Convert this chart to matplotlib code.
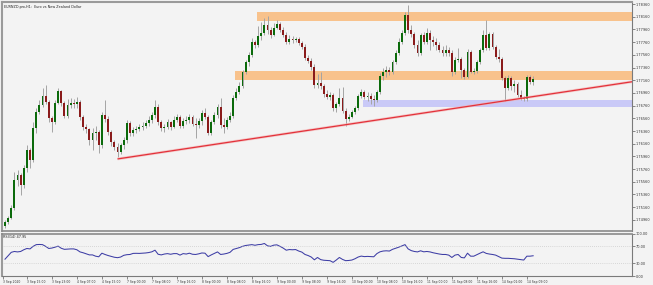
import matplotlib
matplotlib.use("Agg")
import matplotlib.pyplot as plt
from matplotlib.patches import Rectangle
import numpy as np

W, H = 653, 285
BG = "#f3f3f3"

# ---- EURNZD H1 bars ----
first_open = 1.7486
closes = [
    1.7493, 1.7499, 1.7515, 1.7559, 1.7567, 1.7551, 1.7578, 1.7606, 1.7590, 1.7641,
    1.7666, 1.7677, 1.7691, 1.7682, 1.7656, 1.7650, 1.7680, 1.7699, 1.7680, 1.7660,
    1.7677, 1.7680, 1.7679, 1.7682, 1.7658, 1.7642, 1.7639, 1.7622, 1.7633, 1.7634,
    1.7614, 1.7661, 1.7655, 1.7634, 1.7619, 1.7611, 1.7603, 1.7614, 1.7622, 1.7649,
    1.7633, 1.7638, 1.7639, 1.7642, 1.7644, 1.7649, 1.7653, 1.7661, 1.7674, 1.7650,
    1.7641, 1.7642, 1.7650, 1.7642, 1.7653, 1.7658, 1.7644, 1.7652, 1.7653, 1.7658,
    1.7647, 1.7645, 1.7652, 1.7664, 1.7658, 1.7633, 1.7650, 1.7661, 1.7674, 1.7645,
    1.7642, 1.7653, 1.7660, 1.7688, 1.7697, 1.7707, 1.7729, 1.7745, 1.7756, 1.7776,
    1.7771, 1.7786, 1.7790, 1.7803, 1.7795, 1.7787, 1.7798, 1.7805, 1.7795, 1.7787,
    1.7776, 1.7781, 1.7779, 1.7781, 1.7775, 1.7768, 1.7751, 1.7746, 1.7737, 1.7708,
    1.7712, 1.7707, 1.7694, 1.7690, 1.7693, 1.7672, 1.7679, 1.7688, 1.7667, 1.7655,
    1.7658, 1.7666, 1.7672, 1.7691, 1.7697, 1.7690, 1.7691, 1.7686, 1.7685, 1.7697,
    1.7723, 1.7729, 1.7732, 1.7729, 1.7745, 1.7759, 1.7776, 1.7790, 1.7819, 1.7795,
    1.7789, 1.7771, 1.7759, 1.7787, 1.7776, 1.7790, 1.7779, 1.7776, 1.7771, 1.7764,
    1.7759, 1.7764, 1.7759, 1.7729, 1.7748, 1.7749, 1.7732, 1.7721, 1.7760, 1.7729,
    1.7730, 1.7745, 1.7764, 1.7787, 1.7767, 1.7789, 1.7768, 1.7753, 1.7749, 1.7719,
    1.7704, 1.7719, 1.7707, 1.7710, 1.7693, 1.7688, 1.7686, 1.7721, 1.7713, 1.7718,
]
highs = [
    1.7496, 1.7502, 1.7519, 1.7571, 1.7575, 1.7570, 1.7582, 1.7614, 1.7609, 1.7650,
    1.7672, 1.7685, 1.7704, 1.7708, 1.7685, 1.7660, 1.7685, 1.7704, 1.7701, 1.7683,
    1.7686, 1.7688, 1.7686, 1.7690, 1.7685, 1.7661, 1.7647, 1.7641, 1.7641, 1.7644,
    1.7638, 1.7666, 1.7685, 1.7660, 1.7638, 1.7622, 1.7617, 1.7617, 1.7627, 1.7653,
    1.7652, 1.7642, 1.7644, 1.7647, 1.7650, 1.7653, 1.7660, 1.7666, 1.7685, 1.7679,
    1.7653, 1.7647, 1.7655, 1.7652, 1.7660, 1.7663, 1.7661, 1.7656, 1.7660, 1.7663,
    1.7661, 1.7656, 1.7656, 1.7669, 1.7672, 1.7661, 1.7653, 1.7666, 1.7679, 1.7688,
    1.7656, 1.7658, 1.7666, 1.7693, 1.7704, 1.7713, 1.7732, 1.7748, 1.7760, 1.7782,
    1.7779, 1.7801, 1.7808, 1.7814, 1.7817, 1.7800, 1.7806, 1.7811, 1.7808, 1.7800,
    1.7792, 1.7787, 1.7786, 1.7784, 1.7784, 1.7778, 1.7773, 1.7756, 1.7751, 1.7742,
    1.7726, 1.7729, 1.7710, 1.7701, 1.7697, 1.7696, 1.7682, 1.7704, 1.7705, 1.7672,
    1.7663, 1.7669, 1.7675, 1.7694, 1.7702, 1.7701, 1.7697, 1.7696, 1.7693, 1.7701,
    1.7727, 1.7735, 1.7738, 1.7737, 1.7748, 1.7764, 1.7782, 1.7795, 1.7823, 1.7834,
    1.7803, 1.7792, 1.7779, 1.7790, 1.7792, 1.7798, 1.7795, 1.7786, 1.7782, 1.7776,
    1.7770, 1.7771, 1.7768, 1.7764, 1.7753, 1.7767, 1.7753, 1.7735, 1.7765, 1.7764,
    1.7735, 1.7748, 1.7767, 1.7795, 1.7811, 1.7792, 1.7792, 1.7771, 1.7765, 1.7753,
    1.7723, 1.7724, 1.7723, 1.7716, 1.7713, 1.7701, 1.7691, 1.7724, 1.7724, 1.7723,
]
lows = [
    1.7483, 1.7490, 1.7497, 1.7512, 1.7549, 1.7535, 1.7546, 1.7571, 1.7578, 1.7587,
    1.7633, 1.7663, 1.7674, 1.7679, 1.7650, 1.7634, 1.7647, 1.7679, 1.7675, 1.7656,
    1.7656, 1.7672, 1.7672, 1.7672, 1.7653, 1.7638, 1.7633, 1.7614, 1.7606, 1.7622,
    1.7601, 1.7609, 1.7650, 1.7630, 1.7612, 1.7606, 1.7595, 1.7600, 1.7608, 1.7617,
    1.7628, 1.7628, 1.7633, 1.7636, 1.7638, 1.7641, 1.7644, 1.7649, 1.7656, 1.7645,
    1.7636, 1.7634, 1.7639, 1.7638, 1.7641, 1.7650, 1.7641, 1.7641, 1.7647, 1.7649,
    1.7644, 1.7625, 1.7641, 1.7645, 1.7655, 1.7630, 1.7630, 1.7647, 1.7656, 1.7641,
    1.7633, 1.7639, 1.7650, 1.7656, 1.7685, 1.7694, 1.7704, 1.7726, 1.7738, 1.7753,
    1.7767, 1.7768, 1.7779, 1.7787, 1.7789, 1.7782, 1.7786, 1.7797, 1.7792, 1.7784,
    1.7773, 1.7773, 1.7775, 1.7776, 1.7771, 1.7765, 1.7748, 1.7743, 1.7732, 1.7704,
    1.7704, 1.7702, 1.7690, 1.7686, 1.7685, 1.7667, 1.7666, 1.7675, 1.7664, 1.7644,
    1.7652, 1.7656, 1.7663, 1.7669, 1.7688, 1.7686, 1.7683, 1.7679, 1.7675, 1.7682,
    1.7694, 1.7716, 1.7721, 1.7724, 1.7726, 1.7742, 1.7756, 1.7773, 1.7787, 1.7790,
    1.7784, 1.7767, 1.7754, 1.7756, 1.7773, 1.7773, 1.7764, 1.7770, 1.7764, 1.7760,
    1.7754, 1.7754, 1.7754, 1.7723, 1.7726, 1.7745, 1.7719, 1.7718, 1.7719, 1.7727,
    1.7726, 1.7727, 1.7742, 1.7760, 1.7764, 1.7764, 1.7765, 1.7749, 1.7745, 1.7716,
    1.7683, 1.7701, 1.7701, 1.7697, 1.7690, 1.7685, 1.7683, 1.7683, 1.7710, 1.7708,
]
rsi_vals = [
    40, 48, 56, 58, 57, 58, 62, 65, 64, 70,
    74, 74.4, 74, 70, 65, 66, 68, 70.5, 65.5, 63,
    63.5, 64, 64, 62, 57, 55, 52.5, 50, 50, 47,
    45.6, 54, 51, 48.5, 46.5, 44.5, 43.5, 45, 49, 50.5,
    51, 53.5, 53.7, 53.5, 54, 54.5, 55.5, 57.2, 61, 51.5,
    50, 52, 53, 51.5, 53, 53, 49.5, 53, 52, 54,
    51.5, 51, 52.5, 54.5, 54, 46, 50, 53.5, 57, 51,
    52, 53.5, 56, 62.8, 65, 67, 70, 72, 73, 74,
    72.5, 74, 74.5, 76.7, 71.2, 70, 72.8, 73.5, 70, 66,
    61, 62.5, 62, 62.5, 59, 56.5, 51, 48.5, 45, 38.5,
    44, 39, 37.5, 37, 36.5, 32.6, 38, 44, 39.5, 36.5,
    37, 38, 41, 45, 47.2, 46, 46.5, 46, 45.6, 53,
    57.2, 59, 59.6, 59, 63, 65.5, 68, 71, 74, 64,
    60, 58, 57, 59.6, 57.2, 58, 57, 55, 53.5, 52,
    51, 51, 49.5, 44, 49.5, 51, 44, 43, 54, 47,
    47, 50.5, 54, 57.2, 53.5, 52, 51, 49.5, 46, 42.5,
    42, 42, 41.5, 41, 40, 39, 38, 47, 47, 48,
]

price_ticks = [1.78360, 1.78160, 1.77960, 1.77760, 1.77560, 1.77360, 1.77160,
               1.76960, 1.76760, 1.76560, 1.76360, 1.76160, 1.75960, 1.75760,
               1.75560, 1.75360, 1.75160, 1.74960]
rsi_ticks = [100, 70, 30, 0]
rsi_levels = [70, 30]

first_label = "3 Sep 2020"
time_labels = ["3 Sep 15:00", "3 Sep 23:00", "4 Sep 07:00", "4 Sep 15:00",
               "7 Sep 00:00", "7 Sep 08:00", "7 Sep 16:00", "8 Sep 00:00",
               "8 Sep 08:00", "8 Sep 16:00", "9 Sep 00:00", "9 Sep 08:00",
               "9 Sep 16:00", "10 Sep 00:00", "10 Sep 08:00", "10 Sep 16:00",
               "11 Sep 00:00", "11 Sep 08:00", "11 Sep 16:00", "14 Sep 01:00",
               "14 Sep 09:00"]

# zones: first bar, low price, high price
zone_top = (81, 1.7809, 1.7823)
zone_mid = (74, 1.7716, 1.7730)
zone_support = (115, 1.7674, 1.7685)
# trendline anchors: bar, price
trend_a = (36, 1.7592)
trend_b = (166, 1.7688)

title = "EURNZD.pro,H1:  Euro vs New Zealand Dollar"
rsi_title = "RSI(14) 47.95"

XMIN, XMAX = -0.96, 200.64
PMIN, PMAX = 1.74785, 1.78392


def px_box(left, top, right, bottom):
    return [left / W, 1 - bottom / H, (right - left) / W, (bottom - top) / H]


fig = plt.figure(figsize=(W / 100, H / 100), dpi=100, facecolor=BG)
ax = fig.add_axes(px_box(2, 2, 632, 231), facecolor=BG)
ax_rsi = fig.add_axes(px_box(2, 233.5, 632, 276.3), facecolor=BG)

x = np.arange(len(closes))
c = np.array(closes)
o = np.r_[first_open, c[:-1]]
up = c >= o
body = c - o
body = np.where(np.abs(body) < 1e-5, 0.00004, body)

# zones behind the candles
for start, lo, hi, col in [(*zone_top, "#f8c28c"), (*zone_mid, "#f8c28c"),
                           (*zone_support, "#c9c9f7")]:
    ax.add_patch(Rectangle((start - 0.5, lo), XMAX - start + 0.5, hi - lo,
                           facecolor=col, edgecolor="none", zorder=1))

ax.vlines(x, lows, highs, color="#a4a4a4", lw=0.7, zorder=2)
ax.bar(x, body, bottom=o, width=0.62,
       color=np.where(up, "#0b6a0b", "#8a1b1b"), linewidth=0, zorder=3)

# trendline extended to the right edge
slope = (trend_b[1] - trend_a[1]) / (trend_b[0] - trend_a[0])
tx = [trend_a[0], XMAX]
ty = [trend_a[1], trend_a[1] + slope * (XMAX - trend_a[0])]
ax.plot(tx, ty, color="#f4b0b0", lw=2.0, alpha=0.6, zorder=4, solid_capstyle="butt")
ax.plot(tx, ty, color="#e3313a", lw=0.9, zorder=5, solid_capstyle="butt")

ax.set_xlim(XMIN, XMAX)
ax.set_ylim(PMIN, PMAX)
ax.set_xticks([])
ax.yaxis.tick_right()
ax.set_yticks(price_ticks)
ax.set_yticklabels([f"{v:.5f}" for v in price_ticks])
ax.tick_params(axis="y", labelsize=2.5, length=2, width=0.4, pad=0.8,
               colors="#333333")
ax.text(0.003, 0.988, title, transform=ax.transAxes, fontsize=2.4,
        va="top", ha="left", color="#222222")

for side, lw, col in [("top", 1.5, "#9a9a9a"), ("left", 1.5, "#9a9a9a"),
                      ("right", 0.8, "#7a7a7a"), ("bottom", 1.2, "#8a8a8a")]:
    ax.spines[side].set_linewidth(lw)
    ax.spines[side].set_color(col)

# RSI panel
ax_rsi.plot(x, rsi_vals, color="#3d3da5", lw=0.75)
for lvl in rsi_levels:
    ax_rsi.axhline(lvl, color="#bdbdbd", lw=0.5, ls=(0, (1, 2)))
ax_rsi.set_xlim(XMIN, XMAX)
ax_rsi.set_ylim(0, 100)
ax_rsi.yaxis.tick_right()
ax_rsi.set_yticks(rsi_ticks)
ax_rsi.set_yticklabels([f"{v:.2f}" for v in rsi_ticks])
ax_rsi.tick_params(axis="y", labelsize=2.5, length=2, width=0.4, pad=0.8,
                   colors="#333333")
ax_rsi.set_xticks([-0.6] + list(range(7, 7 + 8 * len(time_labels), 8)))
ax_rsi.set_xticklabels([first_label] + time_labels, ha="left")
ax_rsi.tick_params(axis="x", labelsize=2.2, length=2, width=0.4, pad=0.8,
                   colors="#333333")
ax_rsi.text(0.002, 0.97, rsi_title, transform=ax_rsi.transAxes, fontsize=2.4,
            va="top", ha="left", color="#222222")
for side, lw, col in [("top", 1.2, "#8a8a8a"), ("left", 1.5, "#9a9a9a"),
                      ("right", 0.8, "#7a7a7a"), ("bottom", 0.8, "#7a7a7a")]:
    ax_rsi.spines[side].set_linewidth(lw)
    ax_rsi.spines[side].set_color(col)

fig.savefig("out.png", dpi=100, facecolor=BG)
